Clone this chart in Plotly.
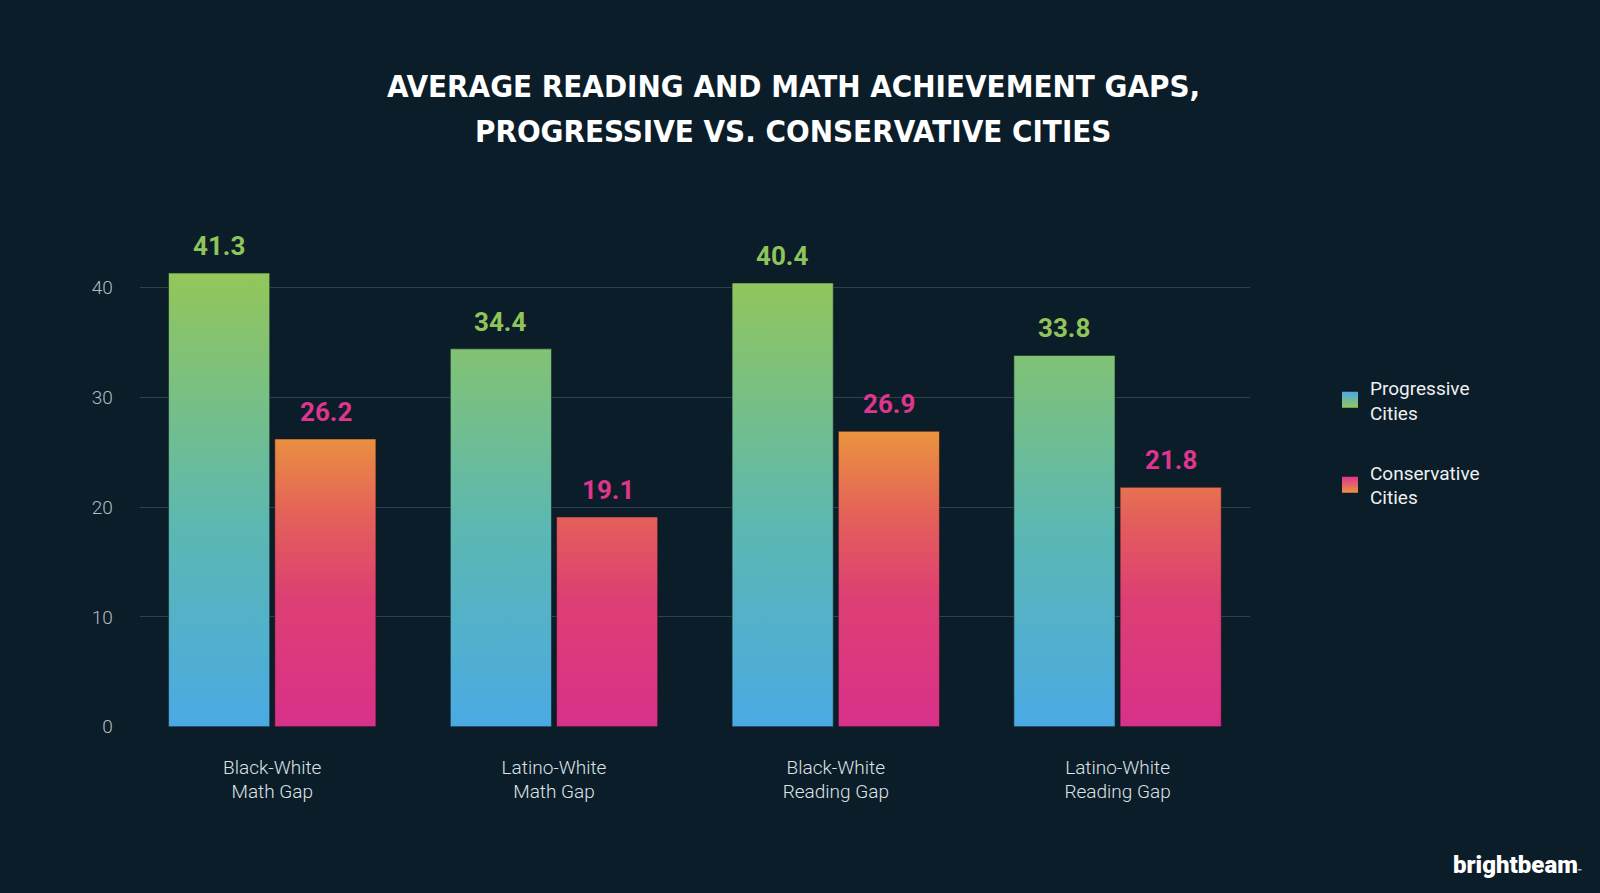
import plotly.graph_objects as go

# データ
categories = ["Black-White<br>Math Gap", "Latino-White<br>Math Gap",
              "Black-White<br>Reading Gap", "Latino-White<br>Reading Gap"]
progressive = [41.3, 34.4, 40.4, 33.8]
conservative = [26.2, 19.1, 26.9, 21.8]
y_ticks = [0, 10, 20, 30, 40]
title_lines = ["AVERAGE READING AND MATH ACHIEVEMENT GAPS,",
               "PROGRESSIVE VS. CONSERVATIVE CITIES"]

BG = "#0b1d29"
GREEN = "#8fc45a"
PINK = "#df358c"

W, H = 1600, 893
FIG_H = 904  # 表示で縦が少し縮むのでその分だけ高くする
x_dom = [139.8 / W, 1250 / W]
y_dom = [(H - 727.5) / H, (H - 243.7) / H]


def bar_shapes(values, x0, x1):
    # each bar as one closed polygon in data space, separated by None
    xs, ys = [], []
    for i, v in enumerate(values):
        xs += [i + x0, i + x1, i + x1, i + x0, i + x0, None]
        ys += [0, 0, v, v, 0, None]
    return xs, ys


fig = go.Figure()

px_, py_ = bar_shapes(progressive, -0.368, -0.009)
fig.add_trace(go.Scatter(
    x=px_, y=py_, mode="lines", fill="toself", showlegend=False,
    line=dict(color="rgba(20,40,40,0.6)", width=1),
    fillgradient=dict(type="vertical", start=0, stop=42,
                      colorscale=[[0, "#4aa9e6"], [0.45, "#5cb8b0"], [1, "#95c757"]]),
    hoverinfo="skip",
))

cx_, cy_ = bar_shapes(conservative, 0.009, 0.368)
fig.add_trace(go.Scatter(
    x=cx_, y=cy_, mode="lines", fill="toself", showlegend=False,
    line=dict(color="rgba(40,20,20,0.6)", width=1),
    fillgradient=dict(type="vertical", start=0, stop=27,
                      colorscale=[[0, "#d8308c"], [0.45, "#dd3f73"], [0.72, "#e4605a"], [1, "#ea933f"]]),
    hoverinfo="skip",
))

# legend items
fig.add_trace(go.Scatter(
    x=[None], y=[None], mode="markers", name="Progressive<br>Cities",
    marker=dict(symbol="square", size=22, color="#4aa9e6",
                gradient=dict(type="vertical", color="#95c757")),
    legend="legend",
))
fig.add_trace(go.Scatter(
    x=[None], y=[None], mode="markers", name="Conservative<br>Cities",
    marker=dict(symbol="square", size=22, color="#df358c",
                gradient=dict(type="vertical", color="#ea933f")),
    legend="legend2",
))

# value labels
for i, v in enumerate(progressive):
    fig.add_annotation(x=i - 0.19, y=v, yshift=27, text=f"{v}", showarrow=False,
                       font=dict(family="Roboto", size=26, color=GREEN, weight="bold"))
for i, v in enumerate(conservative):
    fig.add_annotation(x=i + 0.19, y=v, yshift=27, text=f"{v}", showarrow=False,
                       font=dict(family="Roboto", size=26, color=PINK, weight="bold"))

# タイトル (2行を別々に置いて行間を広げる)
for line, ty in zip(title_lines, [85.7, 131.6]):
    fig.add_annotation(
        x=793 / W, y=1 - ty / H, xref="paper", yref="paper", yanchor="middle",
        text=line, showarrow=False,
        font=dict(family="DejaVu Sans Condensed, DejaVu Sans", size=31,
                  color="white", weight="bold"),
    )

# logo
fig.add_annotation(
    x=1584 / W, y=11 / H, xref="paper", yref="paper", xanchor="right", yanchor="bottom",
    text="brightbeam<span style='font-size:6px'>™</span>", showarrow=False,
    font=dict(family="Roboto", size=24, color="white", weight=900),
)

fig.update_layout(
    width=W, height=FIG_H,
    paper_bgcolor=BG, plot_bgcolor=BG,
    margin=dict(l=0, r=0, t=0, b=0),
    xaxis=dict(
        domain=x_dom, range=[-0.47, 3.47],
        tickmode="array", tickvals=list(range(len(categories))), ticktext=categories,
        showgrid=False, zeroline=False, showline=False, ticks="",
        tickfont=dict(family="Roboto", size=19, color="#dfe2e5", weight=300),
        ticklabelstandoff=27,
    ),
    yaxis=dict(
        domain=y_dom, range=[0, 44],
        tickmode="array", tickvals=y_ticks,
        showgrid=True, gridcolor="#2f414c", gridwidth=1,
        zeroline=False, showline=False, ticks="",
        tickfont=dict(family="Roboto", size=19, color="#b4bcc2", weight=300),
        ticklabelstandoff=26,
    ),
    legend=dict(
        x=1330 / W, y=1 - 369 / H, xanchor="left", yanchor="top",
        bgcolor="rgba(0,0,0,0)",
        font=dict(family="Roboto", size=19, color="#eef0f2"),
    ),
    legend2=dict(
        x=1330 / W, y=1 - 454 / H, xanchor="left", yanchor="top",
        bgcolor="rgba(0,0,0,0)",
        font=dict(family="Roboto", size=19, color="#eef0f2"),
    ),
)

# ページの余白を消す
page_css = (
    "document.body.style.margin='0';"
    "document.body.style.background='#0b1d29';"
)
fig.write_html("out.html", config={"displayModeBar": False}, post_script=page_css)
